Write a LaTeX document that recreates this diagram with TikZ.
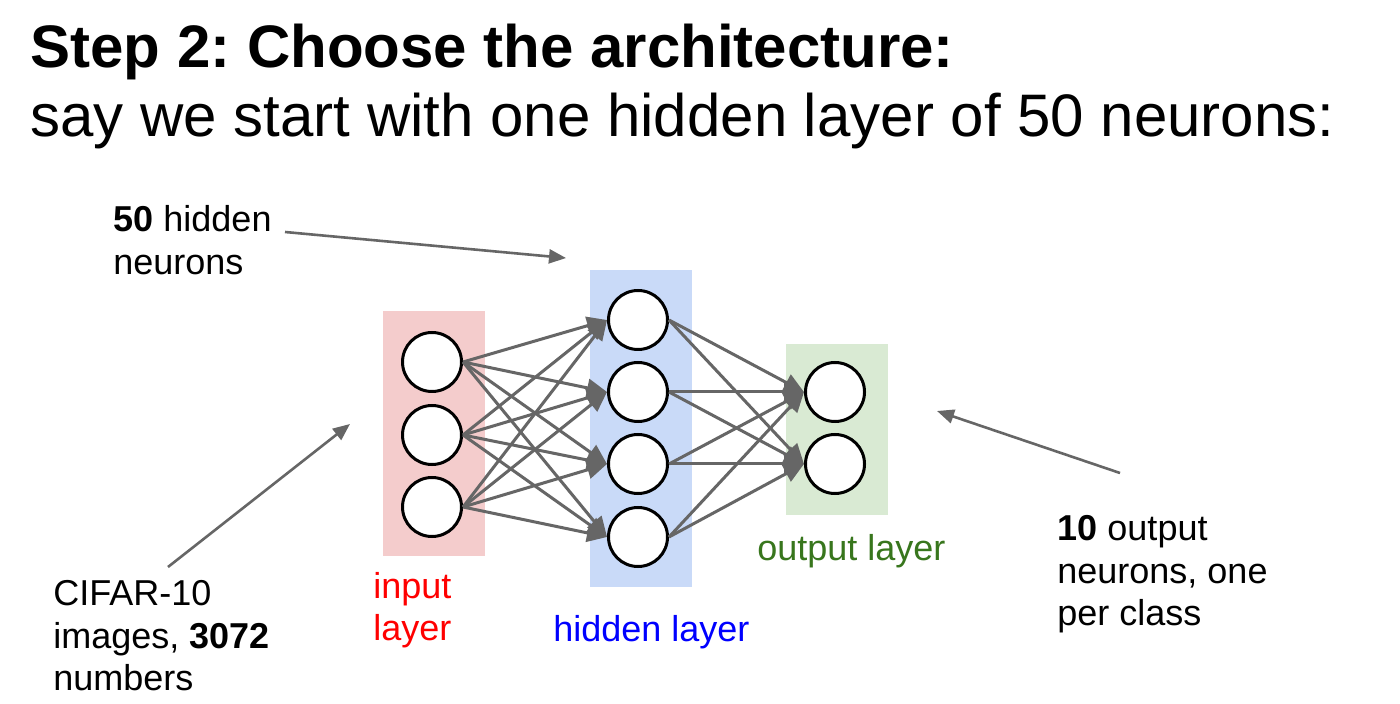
\documentclass[tikz,border=0pt]{standalone}
\usepackage{fontspec}
\setmainfont{Liberation Sans}
\usetikzlibrary{arrows.meta}
\definecolor{edgegray}{HTML}{666666}
\definecolor{inbox}{HTML}{F4CCCC}
\definecolor{hidbox}{HTML}{C9DAF8}
\definecolor{outbox}{HTML}{D9EAD3}
\definecolor{outgreen}{HTML}{38761D}
\tikzset{
  neuron/.style={circle,draw=black,fill=white,line width=1.5pt,minimum size=29.5pt,inner sep=0pt},
  edge/.style={draw=edgegray,line width=1.5pt,-{Triangle[length=10pt,width=9pt]}},
  lab/.style={draw=edgegray,line width=1.3pt,-{Triangle[length=8.5pt,width=7pt]}},
  txt/.style={anchor=base west,inner sep=0pt,font=\fontsize{18}{21.5}\selectfont},
  ttl/.style={anchor=base west,inner sep=0pt,font=\fontsize{30}{36}\selectfont},
}
\frenchspacing
\begin{document}
\begin{tikzpicture}[x=0.5pt,y=-0.5pt]
\useasboundingbox[fill=white] (0,0) rectangle (1400,704);
% titles
\node[ttl,font=\fontsize{30}{36}\selectfont\bfseries] (t1) at (30,68) {Step 2: Choose the architecture:};
\node[ttl] (t2) at (30,137) {say we start with one hidden layer of 50 neurons:};
% layer boxes
\fill[inbox] (383,311) rectangle (485,556);
\fill[hidbox] (590,270) rectangle (692,587);
\fill[outbox] (786,344) rectangle (888,515);
% neurons
\node[neuron] (i1) at (432,362) {};
\node[neuron] (i2) at (432,435) {};
\node[neuron] (i3) at (432,507) {};
\node[neuron] (h1) at (638,320) {};
\node[neuron] (h2) at (638,392) {};
\node[neuron] (h3) at (638,464) {};
\node[neuron] (h4) at (638,537) {};
\node[neuron] (o1) at (835,392) {};
\node[neuron] (o2) at (835,464) {};
% edges
\foreach \i in {1,2,3}{\foreach \h in {1,2,3,4}{\draw[edge] (i\i.east) -- (h\h.west);}}
\foreach \h in {1,2,3,4}{\foreach \o in {1,2}{\draw[edge] (h\h.east) -- (o\o.west);}}
% layer labels
\node[txt,text=red] (inl1) at (373,598) {input};
\node[txt,text=red] (inl2) at (373,640) {layer};
\node[txt,text=blue] (hl) at (553,641) {hidden layer};
\node[txt,text=outgreen] (ol) at (757,560) {output layer};
% annotations
\node[txt] (a1) at (113,232) {\textbf{50} hidden};
\node[txt] (a2) at (113,275) {neurons};
\node[txt] (c1) at (53,605) {CIFAR-10};
\node[txt] (c2) at (53,648) {images, \textbf{3072}};
\node[txt] (c3) at (53,690) {numbers};
\node[txt] (d1) at (1057,540) {\textbf{10} output};
\node[txt] (d2) at (1057,583) {neurons, one};
\node[txt] (d3) at (1057,625) {per class};
% annotation arrows
\coordinate (s1) at (285,232);
\coordinate (e1) at (566,258);
\coordinate (s2) at (168,567);
\coordinate (e2) at (350,424);
\coordinate (s3) at (1120,473);
\coordinate (e3) at (937,411);
\draw[lab] (s1) -- (e1);
\draw[lab] (s2) -- (e2);
\draw[lab] (s3) -- (e3);
\end{tikzpicture}
\end{document}
